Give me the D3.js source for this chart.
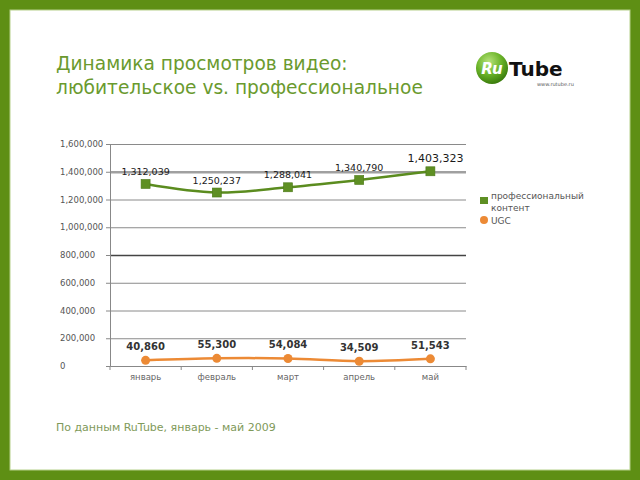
<!DOCTYPE html>
<html><head><meta charset="utf-8">
<script src="https://cdn.jsdelivr.net/npm/d3@7"></script>
<style>body{margin:0;background:#fff}svg{display:block}</style>
</head><body>
<script>
const months = ["январь","февраль","март","апрель","май"];
const proValues = [1312039, 1250237, 1288041, 1340790, 1403323];
const ugcValues = [40860, 55300, 54084, 34509, 51543];
const yTicks = [0,200000,400000,600000,800000,1000000,1200000,1400000,1600000];
const seriesNames = ["профессиональный контент","UGC"];
const titleLines = ["Динамика просмотров видео:","любительское vs. профессиональное"];
const footerText = "По данным RuTube, январь - май 2009";

const W=640,H=480;
const svg=d3.select("body").append("svg").attr("width",W).attr("height",H);
const F="DejaVu Sans, Verdana, sans-serif";

// frame
svg.append("rect").attr("width",W).attr("height",H).attr("fill","#5e8f14");
svg.append("rect").attr("x",10).attr("y",10).attr("width",620).attr("height",460)
  .attr("fill","#fff").attr("stroke","#b5d08a").attr("stroke-width",1);

// title
svg.append("g").selectAll("text").data(titleLines).join("text")
  .attr("x",56).attr("y",(d,i)=>70+i*24).attr("font-family",F).attr("font-size",18.6)
  .attr("fill","#6a9a2e").text(d=>d);

// logo
const defs=svg.append("defs");
const rg=defs.append("radialGradient").attr("id","ball").attr("cx","40%").attr("cy","30%").attr("r","70%");
rg.append("stop").attr("offset","0%").attr("stop-color","#b6e27a");
rg.append("stop").attr("offset","55%").attr("stop-color","#6cb52a");
rg.append("stop").attr("offset","100%").attr("stop-color","#3b7d0c");
const logo=svg.append("g");
logo.append("circle").attr("cx",492).attr("cy",68).attr("r",16).attr("fill","url(#ball)");
logo.append("text").attr("x",492).attr("y",74).attr("text-anchor","middle").attr("font-family",F)
  .attr("font-size",15).attr("font-weight","bold").attr("font-style","italic").attr("fill","#fff").text("Ru");
logo.append("text").attr("x",509).attr("y",76).attr("font-family",F).attr("font-size",20)
  .attr("font-weight","bold").attr("fill","#111").text("Tube");
logo.append("text").attr("x",537).attr("y",86).attr("font-family",F).attr("font-size",5)
  .attr("fill","#555").text("www.rutube.ru");

// scales
const x=d3.scaleBand().domain(months).range([110,466]);
const y=d3.scaleLinear().domain([0,1600000]).range([366,144]);
const cx=d=>x(d)+x.bandwidth()/2;

// gridlines
const grid=svg.append("g").attr("transform","translate(110,0)")
  .call(d3.axisLeft(y).tickValues(yTicks.slice(1)).tickSize(-356).tickFormat(""));
grid.select(".domain").remove();
grid.selectAll("line").attr("stroke",d=>d===1400000?"#a0a0a0":d===800000?"#444":"#8a8a8a")
  .attr("stroke-width",d=>d===1400000?2.5:d===800000?1.5:1);

// y axis
const ya=svg.append("g").attr("transform","translate(110,0)")
  .call(d3.axisLeft(y).tickValues(yTicks).tickSize(4).tickFormat(d3.format(",")));
ya.select(".domain").attr("stroke","#888");
ya.selectAll(".tick line").attr("stroke","#888");
ya.selectAll("text").attr("x",-50).attr("text-anchor","start").attr("font-family",F)
  .attr("font-size",8.5).attr("fill","#555");

// x axis
const xa=svg.append("g").attr("transform","translate(0,366)")
  .call(d3.axisBottom(x).tickSize(0).tickPadding(8));
xa.select(".domain").attr("stroke","#888");
xa.selectAll("text").attr("font-family",F).attr("font-size",8.5).attr("fill","#666");
xa.selectAll(".bnd").data(months.concat([null])).join("line").attr("class","bnd")
  .attr("x1",d=>d===null?466:x(d)).attr("x2",d=>d===null?466:x(d))
  .attr("y1",0).attr("y2",4).attr("stroke","#888");

// lines
const line=d3.line().x((d,i)=>cx(months[i])).y(d=>y(d)).curve(d3.curveCatmullRom);
svg.append("path").datum(proValues).attr("d",line).attr("fill","none")
  .attr("stroke","#5b8c1f").attr("stroke-width",2.5);
svg.append("path").datum(ugcValues).attr("d",line).attr("fill","none")
  .attr("stroke","#ec8a35").attr("stroke-width",2.5);

svg.append("g").selectAll("rect").data(proValues).join("rect")
  .attr("x",(d,i)=>cx(months[i])-4.5).attr("y",d=>y(d)-4.5).attr("width",9).attr("height",9)
  .attr("fill","#5e8f23").attr("stroke","#4c7a18").attr("stroke-width",0.6);
svg.append("g").selectAll("circle").data(ugcValues).join("circle")
  .attr("cx",(d,i)=>cx(months[i])).attr("cy",d=>y(d)).attr("r",4.5).attr("fill","#ec8a35");

// data labels
const fmt=d3.format(",");
svg.append("g").selectAll("text").data(proValues).join("text")
  .attr("x",(d,i)=>cx(months[i])+(i===4?5:0)).attr("y",d=>y(d)-9).attr("text-anchor","middle")
  .attr("font-family",F).attr("font-size",(d,i)=>i===4?11:9.5).attr("fill","#1a1a1a").text(fmt);
svg.append("g").selectAll("text").data(ugcValues).join("text")
  .attr("x",(d,i)=>cx(months[i])).attr("y",d=>y(d)-10).attr("text-anchor","middle")
  .attr("font-family",F).attr("font-size",10).attr("font-weight","bold").attr("fill","#333").text(fmt);

// legend
const lg=svg.append("g");
lg.append("rect").attr("x",480).attr("y",197).attr("width",8).attr("height",7).attr("fill","#5e8f23");
lg.append("text").attr("x",491).attr("y",199).attr("font-family",F).attr("font-size",9).attr("fill","#555")
  .selectAll("tspan").data(["профессиональный","контент"]).join("tspan")
  .attr("x",491).attr("dy",(d,i)=>i?12:0).text(d=>d);
lg.append("circle").attr("cx",484).attr("cy",220).attr("r",4).attr("fill","#ec8a35");
lg.append("text").attr("x",491).attr("y",224).attr("font-family",F).attr("font-size",9).attr("fill","#555").text(seriesNames[1]);

// footer
svg.append("text").attr("x",56).attr("y",431).attr("font-family",F).attr("font-size",11)
  .attr("fill","#7f9a5a").text(footerText);
</script>
</body></html>
